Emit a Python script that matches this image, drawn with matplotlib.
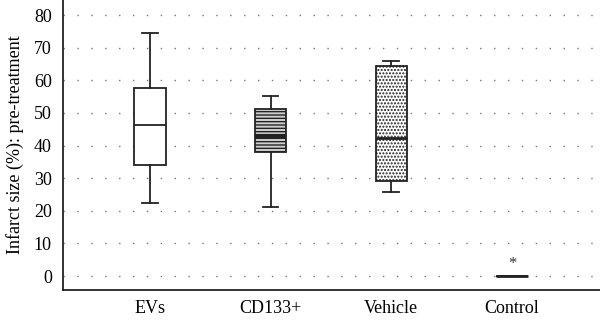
import numpy as np
import matplotlib.pyplot as plt

# group labels and box statistics
groups = ['EVs', 'CD133+', 'Vehicle', 'Control']
whisker_low = [22.4, 21.2, 25.7, 0.0]
q1 = [34.0, 38.1, 29.1, 0.0]
median = [46.3, 43.0, 42.4, 0.0]
q3 = [57.6, 51.2, 64.5, 0.0]
whisker_high = [74.4, 55.3, 66.0, 0.0]
yticks = [0, 10, 20, 30, 40, 50, 60, 70, 80]

plt.rcParams['font.family'] = ['Liberation Serif', 'DejaVu Serif']
plt.rcParams['hatch.linewidth'] = 1.0

fig = plt.figure(figsize=(6, 3.22), dpi=100)
ax = fig.add_axes([0.105, 0.099, 0.895, 0.901])

stats = []
for i in range(len(groups)):
    stats.append({'label': groups[i], 'whislo': whisker_low[i], 'q1': q1[i],
                  'med': median[i], 'q3': q3[i], 'whishi': whisker_high[i],
                  'fliers': []})

pos = np.arange(1, len(groups) + 1)
bp = ax.bxp(stats, positions=pos, widths=0.26, patch_artist=True,
            boxprops=dict(linewidth=1.3, edgecolor='#222222', facecolor='white'),
            medianprops=dict(color='#222222', linewidth=1.3),
            whiskerprops=dict(color='#222222', linewidth=1.3),
            capprops=dict(color='#222222', linewidth=1.3))

# fill styles
bp['boxes'][1].set_facecolor('#cfcfcf')
bp['boxes'][1].set_hatch('-----')
bp['medians'][1].set_linewidth(3)
bp['boxes'][2].set_hatch('.....')
bp['medians'][2].set_linewidth(2)
bp['medians'][3].set_linewidth(2)

ax.text(pos[3], 1.3, '*', ha='center', va='bottom', fontsize=12, color='#333333')

ax.set_xlim(0.28, 4.73)
ax.set_ylim(-4.3, 84.6)
ax.set_yticks(yticks)
ax.set_xticks(pos)
ax.set_xticklabels(groups)
ax.tick_params(length=0, labelsize=13, pad=7)
ax.tick_params(axis='y', pad=8)
ax.yaxis.grid(True, color='#777777', linestyle=(0, (1, 9)), linewidth=1.0)
ax.set_axisbelow(True)
ax.set_ylabel('Infarct size (%): pre-treatment', fontsize=13, labelpad=7)

for s in ['top', 'right']:
    ax.spines[s].set_visible(False)
for s in ['left', 'bottom']:
    ax.spines[s].set_linewidth(1.3)
    ax.spines[s].set_color('#222222')

fig.savefig('out.png', dpi=100)
